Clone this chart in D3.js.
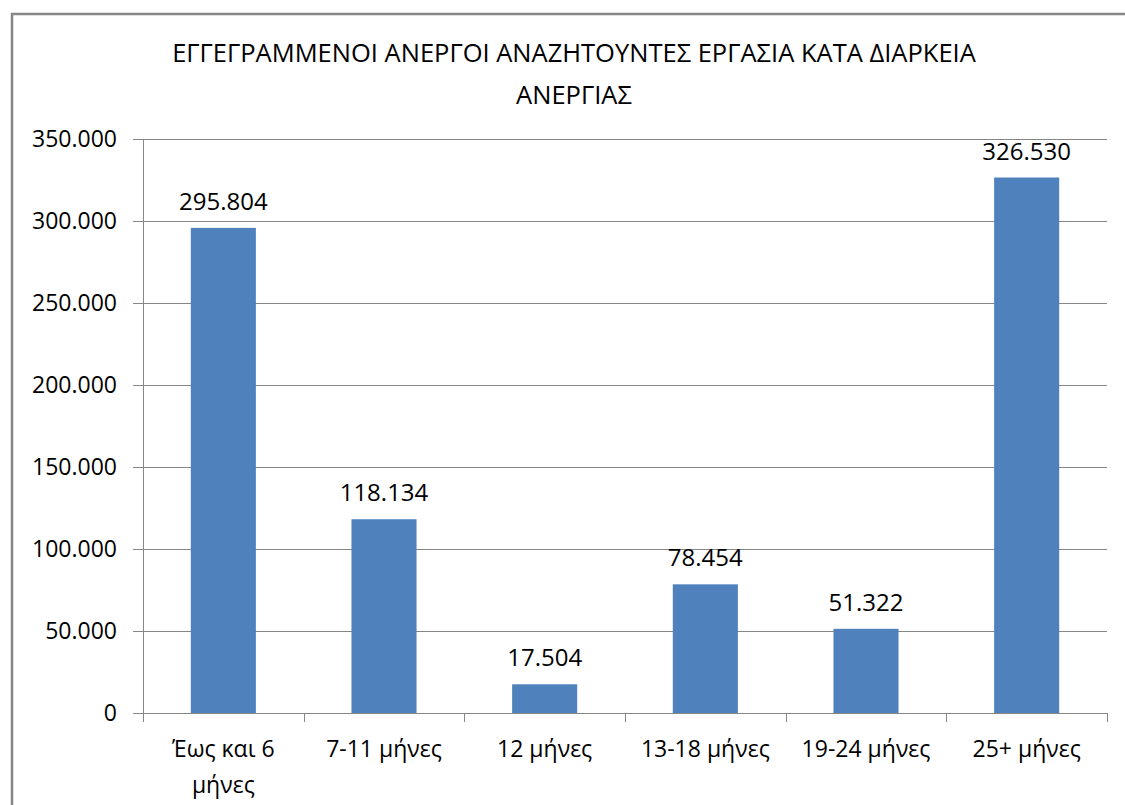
<!DOCTYPE html>
<html>
<head>
<meta charset="utf-8">
<script src="https://cdn.jsdelivr.net/npm/d3@7"></script>
<style>
  html, body { margin: 0; padding: 0; background: #ffffff; }
  svg { display: block; font-family: 'Open Sans', 'Noto Sans', sans-serif; }
</style>
</head>
<body>
<div id="duration-chart"></div>
<script>
const titleLines = [
  'ΕΓΓΕΓΡΑΜΜΕΝΟΙ ΑΝΕΡΓΟΙ ΑΝΑΖΗΤΟΥΝΤΕΣ ΕΡΓΑΣΙΑ ΚΑΤΑ ΔΙΑΡΚΕΙΑ',
  'ΑΝΕΡΓΙΑΣ',
];
const categories = ['Έως και 6 μήνες', '7-11 μήνες', '12 μήνες', '13-18 μήνες', '19-24 μήνες', '25+ μήνες'];
// category labels as Excel wrapped them
const categoryLines = [['Έως και 6', 'μήνες'], ['7-11 μήνες'], ['12 μήνες'], ['13-18 μήνες'], ['19-24 μήνες'], ['25+ μήνες']];
const values = [295804, 118134, 17504, 78454, 51322, 326530];
const yTicks = [0, 50000, 100000, 150000, 200000, 250000, 300000, 350000];

const greek = d3.formatLocale({ decimal: ',', thousands: '.', grouping: [3], currency: ['', '€'] });
const numberFormatter = greek.format(',d');

const drawDurationChart = () => {
  const totalWidth = 1125;
  const totalHeight = 805;
  const margin = { top: 139, right: 18, bottom: 92, left: 143 };
  const width = totalWidth - margin.left - margin.right;
  const height = totalHeight - margin.top - margin.bottom;

  const xScale = d3.scaleBand()
    .domain(categories)
    .range([0, width])
    .paddingInner(0.595)
    .paddingOuter(0.2975);

  const yScale = d3.scaleLinear().domain([0, 350000]).range([height, 0]);

  const root = d3.select('#duration-chart')
    .append('svg')
    .attr('width', totalWidth)
    .attr('height', totalHeight);

  // chart frame
  root.append('rect')
    .attr('x', 12).attr('y', 14)
    .attr('width', 1200).attr('height', 900)
    .attr('fill', '#ffffff')
    .attr('stroke', '#868686')
    .attr('stroke-width', 2.5);

  // title
  root.append('text')
    .attr('text-anchor', 'middle')
    .attr('font-size', 25.5)
    .attr('fill', '#000000')
    .selectAll('tspan')
    .data(titleLines)
    .join('tspan')
    .attr('x', 574)
    .attr('y', (d, i) => 62 + i * 42)
    .text((d) => d);

  const svg = root.append('g').attr('transform', `translate(${margin.left}, ${margin.top})`);

  // y axis with gridlines
  svg.append('g')
    .call(d3.axisLeft(yScale).tickValues(yTicks).tickSize(10).tickPadding(16).tickFormat(numberFormatter))
    .attr('font-family', null)
    .attr('font-size', 23)
    .call((g) => g.select('.domain').attr('stroke', '#868686'))
    .call((g) => g.selectAll('.tick line').attr('stroke', '#868686'))
    .call((g) => g.selectAll('.tick line').clone().attr('x1', 0).attr('x2', width))
    .call((g) => g.selectAll('.tick text').attr('fill', '#000000'));

  // x axis line + boundary ticks
  const step = xScale.step();
  svg.append('line')
    .attr('x1', 0).attr('x2', width)
    .attr('y1', height + 0.5).attr('y2', height + 0.5)
    .attr('stroke', '#868686');

  svg.append('g')
    .selectAll('line')
    .data(d3.range(categories.length + 1))
    .join('line')
    .attr('x1', (i) => Math.round(i * step) + 0.5)
    .attr('x2', (i) => Math.round(i * step) + 0.5)
    .attr('y1', height)
    .attr('y2', height + 9)
    .attr('stroke', '#868686');

  // category labels
  svg.append('g')
    .selectAll('text')
    .data(categories)
    .join('text')
    .attr('text-anchor', 'middle')
    .attr('font-size', 23)
    .attr('fill', '#000000')
    .each(function (d, i) {
      d3.select(this)
        .selectAll('tspan')
        .data(categoryLines[i])
        .join('tspan')
        .attr('x', xScale(d) + xScale.bandwidth() / 2)
        .attr('y', (t, j) => height + 44 + j * 36)
        .text((t) => t);
    });

  // bars
  svg.append('g')
    .selectAll('rect')
    .data(values)
    .join('rect')
    .attr('x', (d, i) => xScale(categories[i]))
    .attr('y', (d) => yScale(d))
    .attr('width', xScale.bandwidth())
    .attr('height', (d) => height - yScale(d))
    .attr('fill', '#4F81BD');

  // data labels
  svg.append('g')
    .selectAll('text')
    .data(values)
    .join('text')
    .attr('text-anchor', 'middle')
    .attr('font-size', 24)
    .attr('fill', '#000000')
    .attr('x', (d, i) => xScale(categories[i]) + xScale.bandwidth() / 2)
    .attr('y', (d) => yScale(d) - 18)
    .text((d) => numberFormatter(d));
};

drawDurationChart();
</script>
</body>
</html>
